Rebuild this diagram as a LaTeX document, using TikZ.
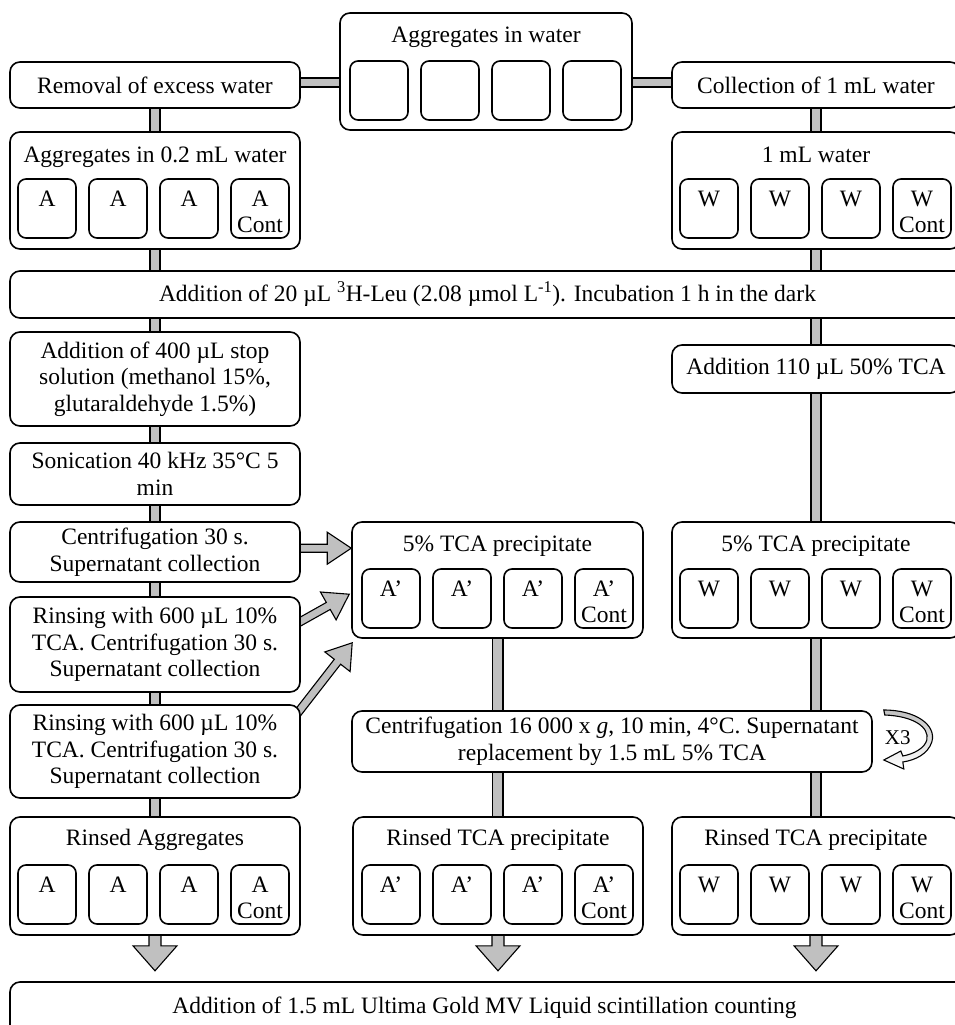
\documentclass[tikz,border=0pt]{standalone}
\usepackage{fontspec}
\setmainfont{Liberation Serif}
\usetikzlibrary{calc,backgrounds}
\definecolor{barfill}{RGB}{192,192,192}
\tikzset{
 every node/.style={font=\fontsize{23.5}{26.5}\selectfont},
 box/.style={draw, line width=1.6pt, rounded corners=10pt, fill=white, align=center, inner sep=0pt},
 cell/.style={draw, line width=1.6pt, rounded corners=8pt, fill=white, minimum width=58pt, minimum height=59pt, inner sep=0pt},
 celllab/.style={anchor=north, align=center, yshift=-9pt},
 bar/.style={draw, line width=1.1pt, fill=barfill},
 ttl/.style={anchor=base, inner sep=0pt},
}
% box by corners: name, x1, y1, x2, y2, text
\newcommand\bx[6]{%
 \pgfmathsetmacro\bxw{#4-#2}\pgfmathsetmacro\bxh{#5-#3}%
 \node[box, minimum width=\bxw pt, minimum height=\bxh pt] (#1) at ({(#2+#4)/2},{(#3+#5)/2}) {#6};}
% four cells: prefix, first left x, centre y, label, fourth label
\newcommand\fourcells[5]{%
 \foreach \i in {0,1,2}{\node[cell, label={[celllab]north:#4}] (#1\i) at ({#2+29+71*\i},#3) {};}
 \node[cell, label={[celllab]north:#5}] (#13) at ({#2+29+213},#3) {};}
% block arrow: shaft half width, head half width, head length, (from), (to)
\newcommand\blockarr[5]{%
 \coordinate (ba1) at #4; \coordinate (ba2) at #5;
 \coordinate (bh) at ($(ba2)!#3pt!(ba1)$);
 \draw[bar] ($(ba1)!#1pt!90:(ba2)$) -- ($(bh)!#1pt!-90:(ba1)$) -- ($(bh)!#2pt!-90:(ba1)$) -- (ba2)
   -- ($(bh)!#2pt!90:(ba1)$) -- ($(bh)!#1pt!90:(ba1)$) -- ($(ba1)!#1pt!-90:(ba2)$) -- cycle;}
\begin{document}
\begin{tikzpicture}[x=1pt,y=-1pt]
\path[use as bounding box, clip] (0,0) rectangle (955,1025);

% top row
\bx{removal}{10}{62}{300}{108}{Removal of excess water}
\bx{agg}{340}{13}{632}{130}{}
\node[ttl] (aggT) at (486,43) {Aggregates in water};
\fourcells{aggc}{350}{90.5}{}{}
\bx{collect}{672}{62}{960}{108}{Collection of 1 mL water}

% second row
\bx{a02}{10}{132}{300}{249}{}
\node[ttl] (a02T) at (155,162) {Aggregates in 0.2 mL water};
\fourcells{a02c}{18}{208.5}{A}{A\\Cont}
\bx{w1}{672}{132}{960}{249}{}
\node[ttl] (w1T) at (816,162) {1 mL water};
\fourcells{w1c}{680}{208.5}{W}{W\\Cont}

\bx{leu}{10}{271}{965}{318}{Addition of 20 µL \textsuperscript{3}H-Leu (2.08 µmol L\textsuperscript{-1}). Incubation 1 h in the dark}

% left column
\bx{stop}{10}{332}{300}{426}{Addition of 400 µL stop\\solution (methanol 15\%,\\glutaraldehyde 1.5\%)}
\bx{sonic}{10}{443}{300}{505}{Sonication 40 kHz 35°C 5\\min}
\bx{centri}{10}{522}{300}{582}{Centrifugation 30 s.\\Supernatant collection}
\bx{rinse1}{10}{597}{300}{692}{Rinsing with 600 µL 10\%\\TCA. Centrifugation 30 s.\\Supernatant collection}
\bx{rinse2}{10}{705}{300}{798}{Rinsing with 600 µL 10\%\\TCA. Centrifugation 30 s.\\Supernatant collection}

% right column
\bx{tca110}{672}{345}{960}{393}{Addition 110 µL 50\% TCA}

% precipitates
\bx{tcaA}{352}{522}{643}{638}{}
\node[ttl] (tcaAT) at (497.5,551) {5\% TCA precipitate};
\fourcells{tcaAc}{362}{598.5}{A’}{A’\\Cont}
\bx{tcaW}{672}{522}{960}{638}{}
\node[ttl] (tcaWT) at (816,551) {5\% TCA precipitate};
\fourcells{tcaWc}{680}{598.5}{W}{W\\Cont}

\bx{cent16}{352}{711}{872}{772}{Centrifugation 16 000 x \textit{g}, 10 min, 4°C. Supernatant\\replacement by 1.5 mL 5\% TCA}

% rinsed row
\bx{rinsedA}{10}{817}{300}{935}{}
\node[ttl] (rinsedAT) at (155,845) {Rinsed Aggregates};
\fourcells{rinsedAc}{18}{894.5}{A}{A\\Cont}
\bx{rinsedTA}{353}{817}{643}{935}{}
\node[ttl] (rinsedTAT) at (498,845) {Rinsed TCA precipitate};
\fourcells{rinsedTAc}{362}{894.5}{A’}{A’\\Cont}
\bx{rinsedTW}{672}{817}{960}{935}{}
\node[ttl] (rinsedTWT) at (816,845) {Rinsed TCA precipitate};
\fourcells{rinsedTWc}{680}{894.5}{W}{W\\Cont}

\bx{final}{10}{982}{965}{1040}{}
\node (finalT) at (484.5,1008) {Addition of 1.5 mL Ultima Gold MV Liquid scintillation counting};

% loop X3
\begin{scope}[shift={(cent16.east)}]
\draw[line width=1.1pt, top color=barfill, bottom color=white]
 (11,-31.5) .. controls (43,-31.5) and (64,-16.5) .. (59,0.5)
 .. controls (55,12.5) and (43,18.5) .. (30,20.5)
 -- (31,27.5) -- (11,18.5) -- (28,9.5) -- (30,14.5)
 .. controls (41,12.5) and (52,6.5) .. (54,-1.5)
 .. controls (57,-14.5) and (40,-25.5) .. (12,-26.5) -- cycle;
\end{scope}
\node[font=\fontsize{21}{24}\selectfont] (x3) at ($(cent16.east)+(25,-3.5)$) {X3};

% connectors
\coordinate (t1) at ($(tcaA.north west)+(0,27)$);
\coordinate (s1) at ($(centri.east |- t1)+(-2,0)$);
\coordinate (t2) at ($(tcaA.north west)+(-2,73)$);
\coordinate (s2) at ($(rinse1.east)+(-2,-22)$);
\coordinate (t3) at ($(tcaA.south west)+(1,4)$);
\coordinate (s3) at ($(rinse2.north east)+(-8,15)$);
\coordinate (dA) at ($(rinsedA.south)+(0,35)$);
\coordinate (dTA) at ($(rinsedTA.south)+(0,35)$);
\coordinate (dTW) at ($(rinsedTW.south)+(0,35)$);
\begin{pgfonlayer}{background}
 \draw[bar] ($(removal.south)+(-5,0)$) rectangle ($(rinsedA.north)+(5,0)$);
 \draw[bar] ($(tcaA.south)+(-5,0)$) rectangle ($(rinsedTA.north)+(5,0)$);
 \draw[bar] ($(collect.south)+(-5,0)$) rectangle ($(rinsedTW.north)+(5,0)$);
 \draw[bar] ($(removal.east)+(0,-7)$) rectangle ($(removal.east -| agg.west)+(0,2)$);
 \draw[bar] ($(agg.east |- collect.west)+(0,-7)$) rectangle ($(collect.west)+(0,2)$);
 \blockarr{4}{16}{24}{(s1)}{(t1)}
 \blockarr{4}{16}{24}{(s2)}{(t2)}
 \blockarr{4}{16}{24}{(s3)}{(t3)}
 \blockarr{6}{22}{25}{($(rinsedA.south)+(0,-2)$)}{(dA)}
 \blockarr{6}{22}{25}{($(rinsedTA.south)+(0,-2)$)}{(dTA)}
 \blockarr{6}{22}{25}{($(rinsedTW.south)+(0,-2)$)}{(dTW)}
\end{pgfonlayer}
\end{tikzpicture}
\end{document}
